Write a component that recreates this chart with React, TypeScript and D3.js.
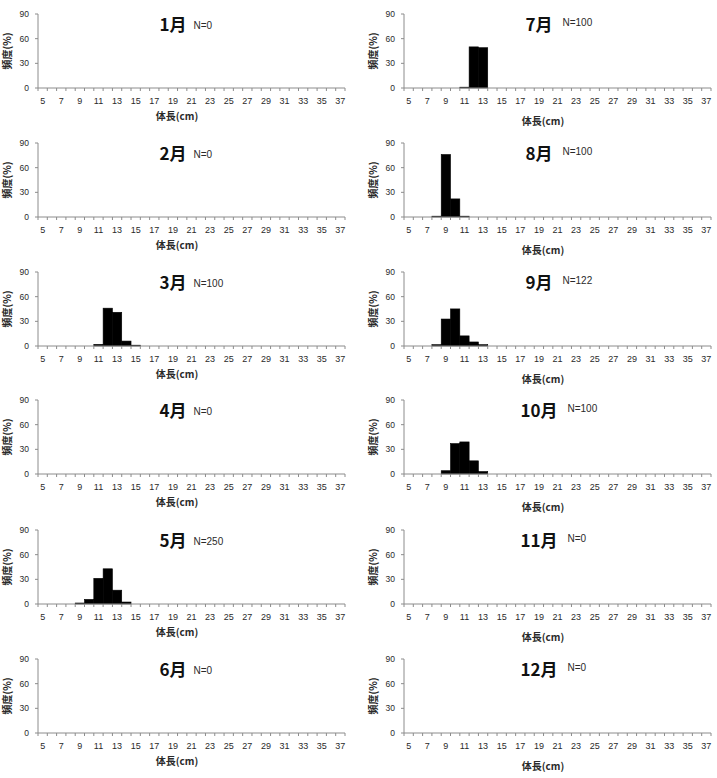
import React from "react";
import * as d3 from "d3";

const months = ["1月", "2月", "3月", "4月", "5月", "6月", "7月", "8月", "9月", "10月", "11月", "12月"];
const sampleN = [0, 0, 100, 0, 250, 0, 100, 100, 122, 100, 0, 0];
const lengthCats = [5, 6, 7, 8, 9, 10, 11, 12, 13, 14, 15, 16, 17, 18, 19, 20, 21, 22, 23, 24, 25, 26, 27, 28, 29, 30, 31, 32, 33, 34, 35, 36, 37];
const xTickLabels = [5, 7, 9, 11, 13, 15, 17, 19, 21, 23, 25, 27, 29, 31, 33, 35, 37];
const yTicks = [0, 30, 60, 90];

const freqJan: [number, number][] = [];
const freqFeb: [number, number][] = [];
const freqMar: [number, number][] = [[11, 2], [12, 46], [13, 41], [14, 6], [15, 1]];
const freqApr: [number, number][] = [];
const freqMay: [number, number][] = [[9, 1.2], [10, 5.6], [11, 31.2], [12, 42.8], [13, 16.8], [14, 2.4]];
const freqJun: [number, number][] = [];
const freqJul: [number, number][] = [[11, 1], [12, 50], [13, 49]];
const freqAug: [number, number][] = [[8, 1], [9, 76], [10, 22], [11, 1]];
const freqSep: [number, number][] = [[8, 1.6], [9, 32.8], [10, 45.1], [11, 12.3], [12, 4.9], [13, 1.6]];
const freqOct: [number, number][] = [[9, 4], [10, 37], [11, 39], [12, 16], [13, 3]];
const freqNov: [number, number][] = [];
const freqDec: [number, number][] = [];
const freqByMonth = [freqJan, freqFeb, freqMar, freqApr, freqMay, freqJun, freqJul, freqAug, freqSep, freqOct, freqNov, freqDec];

const W = 717;
const H = 778;
const colX = [38, 404];
const plotW = 307;
const rowTop = [14, 143, 272, 400, 530, 659];
const plotH = 74;
const axisColor = "#8c8c8c";
const textColor = "#2a2a2a";

function Panel({ idx }: { idx: number }) {
  const col = idx < 6 ? 0 : 1;
  const row = idx % 6;
  const x0 = colX[col];
  const top = rowTop[row];
  const base = top + plotH;
  const x = d3.scaleBand<number>().domain(lengthCats).range([x0, x0 + plotW]).padding(0);
  const y = d3.scaleLinear().domain([0, 90]).range([base, top]);
  const bw = x.bandwidth();
  const bounds = lengthCats.map((c) => x(c) as number).concat([x0 + plotW]);
  const title = months[idx];
  const titleCx = x0 + 135;
  const titleW = title.length === 2 ? 25 : 35;
  const nX = titleCx + titleW / 2 + (col === 0 ? 8 : 11);
  const nY = col === 0 ? top + 15 : top + 12;
  const xTitleY = base + (col === 0 ? 32 : 37);
  return (
    <g>
      {freqByMonth[idx].map(([c, v]) => (
        <rect key={c} x={x(c)} y={y(v)} width={bw} height={base - y(v)} fill="#000" stroke="#000" strokeWidth={0.6} />
      ))}
      <line x1={x0} x2={x0} y1={top} y2={base} stroke={axisColor} strokeWidth={1} />
      {yTicks.map((t) => (
        <g key={t}>
          <line x1={x0 - 3} x2={x0} y1={y(t)} y2={y(t)} stroke={axisColor} />
          <text x={x0 - 9} y={y(t) + 3} textAnchor="end" fontSize={8.5} fill={textColor} fontFamily="Liberation Sans, Arial, sans-serif">{t}</text>
        </g>
      ))}
      <line x1={x0} x2={x0 + plotW} y1={base} y2={base} stroke={axisColor} strokeWidth={1} />
      {bounds.map((b, i) => (
        <line key={i} x1={b} x2={b} y1={base} y2={base + 3} stroke={axisColor} />
      ))}
      {xTickLabels.map((t) => (
        <text key={t} x={(x(t) as number) + bw / 2} y={base + 16} textAnchor="middle" fontSize={9} fill={textColor} fontFamily="Liberation Sans, Arial, sans-serif">{t}</text>
      ))}
      <text x={x0 + 139} y={xTitleY} textAnchor="middle" fontSize={10} fontWeight="bold" fill={textColor} fontFamily="Noto Sans CJK JP, sans-serif">体長(cm)</text>
      <text transform={`translate(${x0 - 27},${top + plotH / 2}) rotate(-90)`} textAnchor="middle" fontSize={10} fontWeight="bold" fill={textColor} fontFamily="Noto Sans CJK JP, sans-serif">頻度(%)</text>
      <text x={titleCx} y={top + 17} textAnchor="middle" fontSize={17} fontWeight="bold" fill="#111" fontFamily="Noto Sans CJK JP, sans-serif">{title}</text>
      <text x={nX} y={nY} fontSize={10} fill={textColor} fontFamily="Liberation Sans, Arial, sans-serif">{`N=${sampleN[idx]}`}</text>
    </g>
  );
}

export default function App() {
  return (
    <svg width={W} height={H} style={{ position: "absolute", left: 0, top: 0, background: "#fff" }}>
      <rect x={0} y={0} width={W} height={H} fill="#fff" />
      {months.map((m, i) => (
        <Panel key={m} idx={i} />
      ))}
    </svg>
  );
}
